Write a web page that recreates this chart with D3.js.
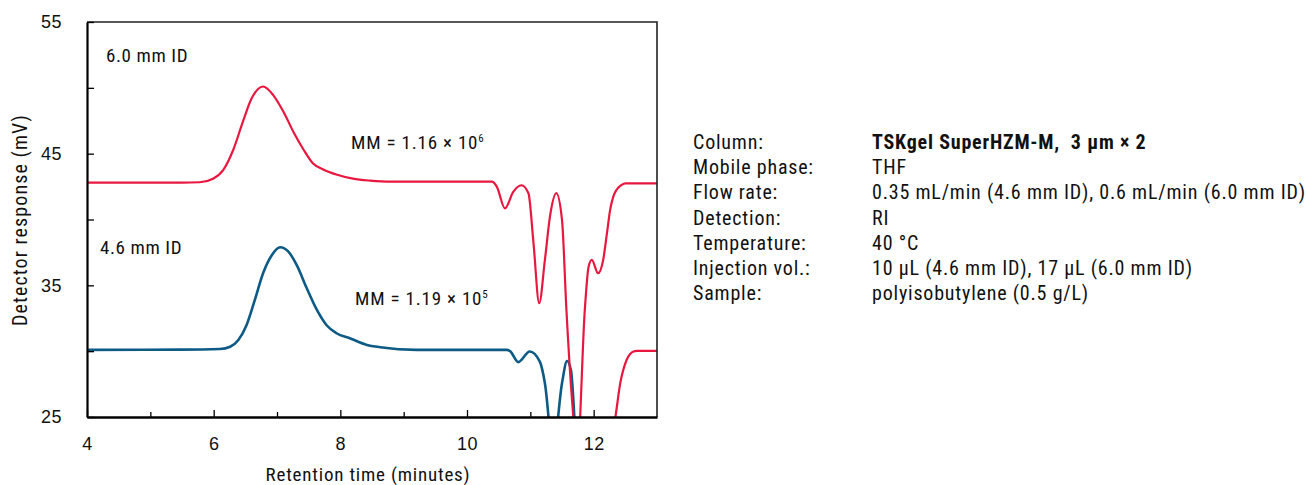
<!DOCTYPE html>
<html>
<head>
<meta charset="utf-8">
<script src="https://cdn.jsdelivr.net/npm/d3@7"></script>
<style>
  body { margin: 0; background: #fff; }
  svg { font-family: "Liberation Sans Narrow", "Roboto Condensed", "DejaVu Sans Condensed", sans-serif; }
</style>
</head>
<body>
<div id="chart"></div>
<script>
// retention time (min) / detector response (mV)
const trace60 = [
  [4.0, 42.8], [5.5, 42.8], [5.78, 42.83], [5.99, 43.1], [6.15, 43.75], [6.31, 45.3],
  [6.47, 47.55], [6.60, 49.2], [6.78, 50.1], [6.94, 49.45], [7.10, 48.2], [7.26, 46.65],
  [7.42, 45.3], [7.57, 44.25], [7.73, 43.8], [7.95, 43.4], [8.20, 43.1], [8.47, 42.95],
  [8.8, 42.87], [9.8, 42.87], [10.39, 42.87], [10.47, 42.5], [10.60, 40.85], [10.73, 42.1],
  [10.86, 42.6], [10.97, 41.99], [11.05, 38.2], [11.14, 33.64], [11.23, 36.93], [11.31, 40.22],
  [11.41, 42.0], [11.50, 39.97], [11.57, 33.13], [11.65, 26.83], [11.745, 22.5], [11.86, 33.13],
  [11.92, 36.42], [11.97, 36.93], [12.07, 35.92], [12.15, 36.93], [12.21, 38.96], [12.26, 40.73],
  [12.31, 41.74], [12.36, 42.24], [12.42, 42.55], [12.50, 42.75], [13.0, 42.75]
]
const trace46 = [
  [4.0, 30.1], [5.47, 30.12], [6.10, 30.17], [6.26, 30.34], [6.39, 30.85], [6.52, 31.99],
  [6.65, 33.89], [6.78, 35.92], [6.92, 37.31], [7.05, 37.89], [7.18, 37.56], [7.31, 36.55],
  [7.47, 34.78], [7.63, 33.13], [7.78, 31.99], [7.94, 31.36], [8.15, 30.98], [8.42, 30.47],
  [8.63, 30.3], [9.2, 30.1], [10.63, 30.1], [10.68, 30.0], [10.81, 29.17], [10.99, 29.97],
  [11.15, 29.2], [11.23, 27.57], [11.36, 22.5], [11.50, 27.57], [11.58, 29.25], [11.64, 28.58],
  [11.72, 22.5]
]
// tail of the 4.6 mm trace, drawn in red in the original
const trace46Tail = [
  [12.24, 22.5], [12.34, 24.9], [12.42, 27.57], [12.52, 29.33], [12.63, 29.97], [12.68, 30.02], [13.0, 30.02]
]
const yTicks = [25, 30, 35, 40, 45, 50, 55]
const yLabels = [25, 35, 45, 55]
const xMajor = [4, 6, 8, 10, 12]
const xMinor = [5, 7, 9, 11]
const conditions = [
  ["Column:", "TSKgel SuperHZM-M,  3 µm × 2"],
  ["Mobile phase:", "THF"],
  ["Flow rate:", "0.35 mL/min (4.6 mm ID), 0.6 mL/min (6.0 mm ID)"],
  ["Detection:", "RI"],
  ["Temperature:", "40 °C"],
  ["Injection vol.:", "10 µL (4.6 mm ID), 17 µL (6.0 mm ID)"],
  ["Sample:", "polyisobutylene (0.5 g/L)"]
]

const red = "#e8173f"
const blue = "#0d5b85"

let svg = d3.select("#chart").append("svg")
  .attr("width", 1305)
  .attr("height", 485)

// scales
let x = d3.scaleLinear().domain([4, 13]).range([87, 657])
let y = d3.scaleLinear().domain([25, 55]).range([417, 22])

svg.append("clipPath").attr("id", "plotClip")
  .append("rect")
  .attr("x", 87).attr("y", 22).attr("width", 570).attr("height", 395)

let line = d3.line()
  .x(d => x(d[0]))
  .y(d => y(d[1]))
  .curve(d3.curveMonotoneX)

let plot = svg.append("g").attr("clip-path", "url(#plotClip)")
plot.append("path").datum(trace46)
  .attr("d", line).attr("fill", "none").attr("stroke", blue).attr("stroke-width", 2.6)
plot.append("path").datum(trace46Tail)
  .attr("d", line).attr("fill", "none").attr("stroke", red).attr("stroke-width", 2.2)
plot.append("path").datum(trace60)
  .attr("d", line).attr("fill", "none").attr("stroke", red).attr("stroke-width", 2.2)

// frame top/right
svg.append("path")
  .attr("d", `M${x(4)},${y(55)}H${x(13)}V${y(25)}`)
  .attr("fill", "none").attr("stroke", "#222").attr("stroke-width", 1.6)

// y axis, ticks pointing inward
let yAxis = svg.append("g")
  .attr("transform", `translate(${x(4)},0)`)
  .call(d3.axisLeft(y)
    .tickValues(yTicks)
    .tickSizeInner(-7)
    .tickSizeOuter(0)
    .tickPadding(25)
    .tickFormat(d => yLabels.includes(d) ? d : ""))
yAxis.select(".domain").attr("stroke", "#000").attr("stroke-width", 2.2)
yAxis.selectAll(".tick line").attr("stroke", "#000").attr("stroke-width", 1.3)
yAxis.selectAll("text").attr("font-size", 18).attr("letter-spacing", 0.5).attr("fill", "#111")

// x axis
let xAxisMinor = svg.append("g")
  .attr("transform", `translate(0,${y(25)})`)
  .call(d3.axisBottom(x).tickValues(xMinor).tickSizeInner(-5).tickSizeOuter(0).tickFormat(""))
xAxisMinor.select(".domain").remove()
xAxisMinor.selectAll(".tick line").attr("stroke", "#000").attr("stroke-width", 1.3)

let xAxis = svg.append("g")
  .attr("transform", `translate(0,${y(25)})`)
  .call(d3.axisBottom(x)
    .tickValues(xMajor)
    .tickSizeInner(-7)
    .tickSizeOuter(0)
    .tickPadding(20))
xAxis.select(".domain").attr("stroke", "#000").attr("stroke-width", 2.6)
xAxis.selectAll(".tick line").attr("stroke", "#000").attr("stroke-width", 1.3)
xAxis.selectAll("text").attr("font-size", 18).attr("letter-spacing", 0.5).attr("fill", "#111")

// axis titles
svg.append("text")
  .attr("transform", "translate(27,220) rotate(-90)")
  .attr("text-anchor", "middle")
  .attr("font-size", 20)
  .attr("letter-spacing", 1.1)
  .attr("fill", "#111")
  .text("Detector response (mV)")
svg.append("text")
  .attr("x", 368).attr("y", 481)
  .attr("text-anchor", "middle")
  .attr("font-size", 19)
  .attr("letter-spacing", 0.8)
  .attr("fill", "#111")
  .text("Retention time (minutes)")

// trace labels
svg.append("text").attr("x", 106).attr("y", 62)
  .attr("font-size", 19).attr("letter-spacing", 0.6).attr("fill", "#111").text("6.0 mm ID")
svg.append("text").attr("x", 100).attr("y", 254)
  .attr("font-size", 19).attr("letter-spacing", 0.6).attr("fill", "#111").text("4.6 mm ID")

function mmLabel(xPos, yPos, mant, exp) {
  let t = svg.append("text").attr("x", xPos).attr("y", yPos)
    .attr("font-size", 19).attr("letter-spacing", 0.8).attr("fill", "#111")
  t.append("tspan").text(`MM = ${mant} × 10`)
  t.append("tspan").attr("dy", -7).attr("font-size", 11).text(exp)
}
mmLabel(351, 149, "1.16", "6")
mmLabel(355, 305, "1.19", "5")

// conditions table
let cond = svg.append("g").attr("font-size", 20).attr("letter-spacing", 0.8).attr("fill", "#111")
conditions.forEach((row, i) => {
  cond.append("text").attr("x", 693).attr("y", 149 + i * 25.2).text(row[0])
  cond.append("text").attr("x", 872).attr("y", 149 + i * 25.2)
    .attr("font-weight", i === 0 ? "bold" : "normal")
    .style("white-space", "pre")
    .text(row[1])
})
</script>
</body>
</html>
